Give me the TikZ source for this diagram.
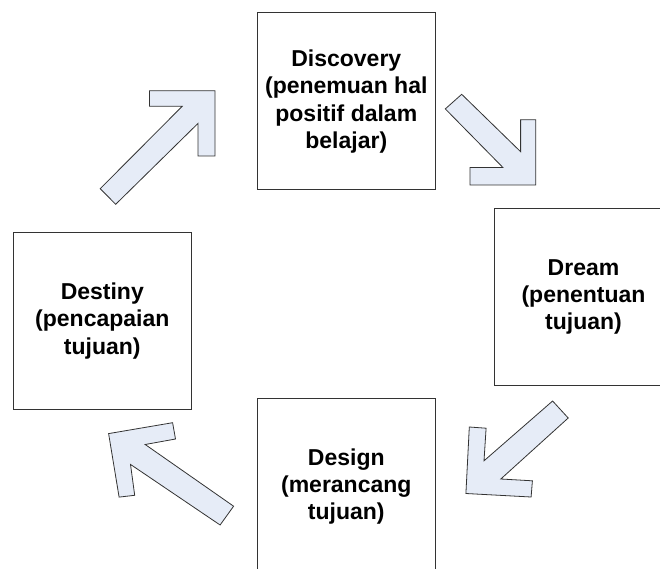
\documentclass[tikz,border=0pt]{standalone}
\usepackage{fontspec}
\setmainfont{Liberation Sans}
\usepackage{xcolor}
\definecolor{panah}{HTML}{E6ECF7}
\definecolor{garis}{HTML}{333333}
\tikzset{
  tahap/.style={draw=garis, line width=1pt, minimum width=178.6pt, minimum height=177pt,
    align=center, inner sep=0pt, font=\bfseries\fontsize{23}{27.3}\selectfont},
  panahblok/.style={draw=garis, fill=panah, line width=0.8pt, line join=miter}
}

\begin{document}
\begin{tikzpicture}[x=1pt, y=-1pt]
		\useasboundingbox (0,0) rectangle (660,569);
		\clip (0,0) rectangle (660,569);
		% tahap siklus
		\node[tahap] (discovery) at (346.3, 101.5) {Discovery\\(penemuan hal\\positif dalam\\belajar)};
		\node[tahap] (dream) at (583.5, 297) {Dream\\(penentuan\\tujuan)};
		\node[tahap] (design) at (346.3, 486.5) {Design\\(merancang\\tujuan)};
		\node[tahap] (destiny) at (102.3, 321) {Destiny\\(pencapaian\\tujuan)};

		% destiny -> discovery
		\draw[panahblok] (100.2,188.7) -- (182.2,106.3) -- (149.4,106.3) -- (149.4,90.7)
			-- (215,90.7) -- (215,156) -- (198,156) -- (198,123.4) -- (115.7,204.3) -- cycle;
		% discovery -> dream
		\draw[panahblok] (445.3,108.9) -- (461.7,94.3) -- (520.6,151.7) -- (520.6,119.7)
			-- (535.8,119.7) -- (535.8,185) -- (470,185) -- (470,167.6) -- (503,167.6) -- cycle;
		% dream -> design
		\draw[panahblok] (552.6,401) -- (568.2,418) -- (500.8,479) -- (532.4,480.8)
			-- (531.1,497) -- (465.9,493.5) -- (469.3,427) -- (486.1,428.2) -- (484,460.8) -- cycle;
		% design -> destiny
		\draw[panahblok] (233.6,506.2) -- (220.1,525) -- (130.5,464.4) -- (134.7,495.3)
			-- (119.1,497.1) -- (108.6,433.6) -- (172.6,422.7) -- (175.5,439) -- (145.2,444.5) -- cycle;
	\end{tikzpicture}
\end{document}
